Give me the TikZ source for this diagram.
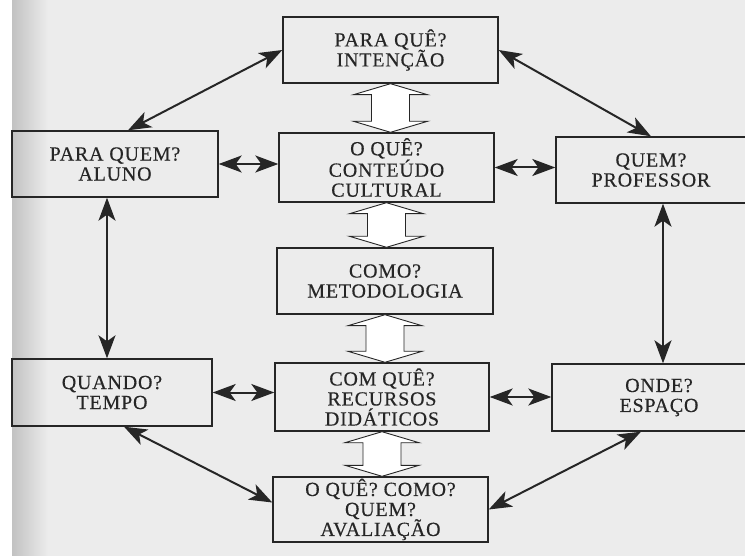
\documentclass[tikz,border=0pt]{standalone}
\usepackage{fontspec}
\setmainfont{Liberation Serif}[LetterSpace=4, FakeBold=0.4]
\usepackage{tikz}
\usetikzlibrary{arrows.meta,calc}
\definecolor{paper}{gray}{0.925}
\definecolor{ink}{gray}{0.15}

\begin{document}
\begin{tikzpicture}[x=1pt,y=-1pt,
        box/.style={draw=ink, line width=1.4pt, rectangle, inner sep=0pt, align=center, text=ink, font=\fontsize{20}{20}\selectfont},
        link/.style={draw=ink, line width=2pt, {Stealth[length=23pt,width=17pt,inset=6pt]}-{Stealth[length=23pt,width=17pt,inset=6pt]}},
        hollow/.style={draw=ink, line width=0.9pt, fill=white, line join=miter}]

                \path[use as bounding box, clip] (0,0) rectangle (745,556);
                \fill[paper] (0,0) rectangle (745,556);
                \fill[white] (0,0) rectangle (12,556);
                \shade[left color=black!24, right color=paper] (12,0) rectangle (48,556);

                \node[box, minimum width=215pt, minimum height=66pt] (intencao)    at (390.5,50)  {PARA QUÊ?\\INTENÇÃO};
                \node[box, minimum width=206pt, minimum height=66pt] (aluno)       at (115,164)   {PARA QUEM?\\ALUNO};
                \node[box, minimum width=215pt, minimum height=69pt] (conteudo)    at (386.5,167.5) {O QUÊ?\\CONTEÚDO\\CULTURAL};
                \node[box, minimum width=190pt, minimum height=66pt] (professor)   at (651,170)   {QUEM?\\PROFESSOR};
                \node[box, minimum width=216pt, minimum height=66pt] (metodologia) at (385,281)   {COMO?\\METODOLOGIA};
                \node[box, minimum width=200pt, minimum height=67pt] (quando)      at (112,392.5) {QUANDO?\\TEMPO};
                \node[box, minimum width=214pt, minimum height=68pt] (comque)      at (382,397)   {COM QUÊ?\\RECURSOS\\DIDÁTICOS};
                \node[box, minimum width=214pt, minimum height=67pt] (onde)        at (659,397.5) {ONDE?\\ESPAÇO};
                \node[box, minimum width=215pt, minimum height=65pt] (avaliacao)   at (380.5,509.5) {O QUÊ? COMO?\\QUEM?\\AVALIAÇÃO};

                \foreach \a/\b in {intencao/conteudo, conteudo/metodologia, metodologia/comque, comque/avaliacao}
                    \draw[hollow] let \p1=(\a.south), \p2=(\b.north) in
                        (\x1,\y1) -- (\x1+37pt,\y1-11pt) -- (\x1+19pt,\y1-11pt) -- (\x1+19pt,\y2+11pt) -- (\x1+37pt,\y2+11pt) -- (\x1,\y2)
                        -- (\x1-37pt,\y2+11pt) -- (\x1-19pt,\y2+11pt) -- (\x1-19pt,\y1-11pt) -- (\x1-37pt,\y1-11pt) -- cycle;

                \draw[link] (intencao.west) -- ([xshift=13pt]aluno.north);
                \draw[link] (intencao.east) -- (professor.north);
                \draw[link] (aluno.east) -- (aluno.east -| conteudo.west);
                \draw[link] (conteudo.east) -- (conteudo.east -| professor.west);
                \draw[link] ([xshift=-8pt]aluno.south) -- ([xshift=-8pt]aluno.south |- quando.north);
                \draw[link] ([xshift=12pt]professor.south) -- ([xshift=12pt]professor.south |- onde.north);
                \draw[link] (quando.east) -- (quando.east -| comque.west);
                \draw[link] (comque.east) -- (comque.east -| onde.west);
                \draw[link] ([xshift=12pt]quando.south) -- ([yshift=7pt]avaliacao.west);
                \draw[link] ([xshift=-18pt]onde.south) -- (avaliacao.east);

            \end{tikzpicture}
\end{document}
